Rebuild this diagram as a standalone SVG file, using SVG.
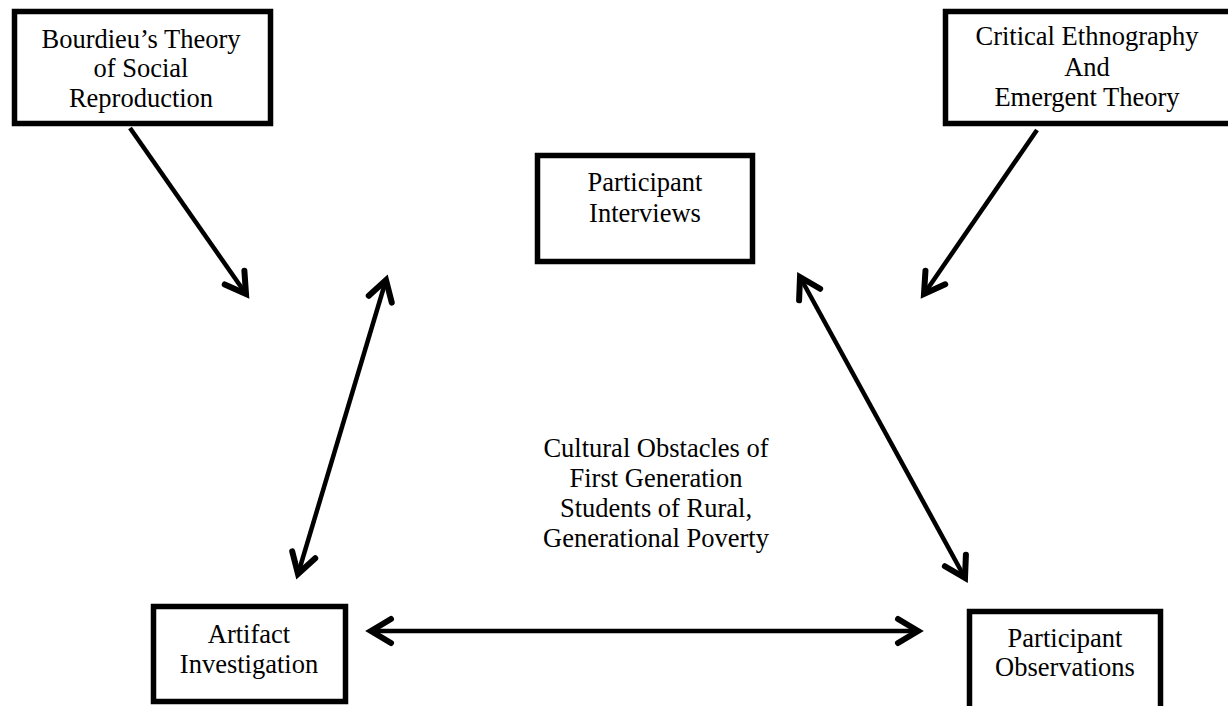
<svg xmlns="http://www.w3.org/2000/svg" width="1228" height="706" viewBox="0 0 1228 706">
<defs>
<style>
.box{fill:#fff;stroke:#000;stroke-width:5.5}
.t{font-family:'Liberation Serif','Tinos','DejaVu Serif',serif;font-size:26.5px;fill:#000;text-anchor:middle}
.c{stroke:#000;stroke-width:4.5;fill:none}
</style>
<marker id="ah" markerUnits="userSpaceOnUse" viewBox="-30 -20 40 40" markerWidth="40" markerHeight="40" refX="0" refY="0" orient="auto-start-reverse" overflow="visible">
<path d="M-20,-12 L0,0 L-20,12" fill="none" stroke="#000" stroke-width="6" stroke-linecap="round" stroke-linejoin="miter"/>
</marker>
</defs>
<rect width="1228" height="706" fill="#fff"/>
<g id="bourdieu">
<rect class="box" x="14.5" y="11.5" width="256" height="112"/>
<text class="t" x="141" y="48">Bourdieu’s Theory</text>
<text class="t" x="141" y="77">of Social</text>
<text class="t" x="141" y="107">Reproduction</text>
</g>
<g id="critical">
<rect class="box" x="945.5" y="11.5" width="290" height="112"/>
<text class="t" x="1087" y="45">Critical Ethnography</text>
<text class="t" x="1087" y="76">And</text>
<text class="t" x="1087" y="106">Emergent Theory</text>
</g>
<g id="interviews">
<rect class="box" x="537.5" y="155.5" width="215" height="106"/>
<text class="t" x="645" y="191">Participant</text>
<text class="t" x="645" y="222">Interviews</text>
</g>
<g id="artifact">
<rect class="box" x="153.5" y="606.5" width="192" height="95"/>
<text class="t" x="249" y="643">Artifact</text>
<text class="t" x="249" y="673">Investigation</text>
</g>
<g id="observations">
<rect class="box" x="969.5" y="611.5" width="191" height="100"/>
<text class="t" x="1065" y="647">Participant</text>
<text class="t" x="1065" y="676">Observations</text>
</g>
<g id="center">
<text class="t" x="656" y="457">Cultural Obstacles of</text>
<text class="t" x="656" y="487">First Generation</text>
<text class="t" x="656" y="517">Students of Rural,</text>
<text class="t" x="656" y="547">Generational Poverty</text>
</g>
<g id="connectors">
<line class="c" x1="130" y1="128" x2="246" y2="294" marker-end="url(#ah)"/>
<line class="c" x1="1037" y1="130" x2="924" y2="294" marker-end="url(#ah)"/>
<line class="c" x1="386" y1="280" x2="298" y2="574" marker-start="url(#ah)" marker-end="url(#ah)"/>
<line class="c" x1="800" y1="277" x2="965" y2="578" marker-start="url(#ah)" marker-end="url(#ah)"/>
<line class="c" x1="371" y1="631" x2="918" y2="631" marker-start="url(#ah)" marker-end="url(#ah)"/>
</g>
</svg>
